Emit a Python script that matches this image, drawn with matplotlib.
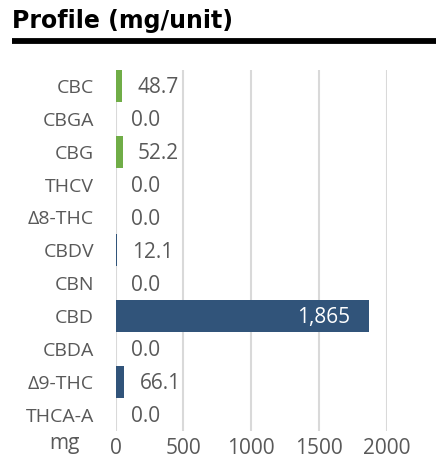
import matplotlib
matplotlib.use("Agg")
import matplotlib.pyplot as plt

categories = ["CBC", "CBGA", "CBG", "THCV", "Δ8-THC", "CBDV", "CBN", "CBD", "CBDA", "Δ9-THC", "THCA-A"]
values = [48.7, 0.0, 52.2, 0.0, 0.0, 12.1, 0.0, 1865, 0.0, 66.1, 0.0]
bar_colors = ["#70AD47", "#70AD47", "#70AD47", "#31547A", "#31547A", "#31547A",
              "#31547A", "#31547A", "#31547A", "#31547A", "#31547A"]
x_ticks = [0, 500, 1000, 1500, 2000]
x_unit = "mg"
title = "Profile (mg/unit)"

W, H = 444, 474
fig = plt.figure(figsize=(W / 100, H / 100), dpi=100)
font = ["Open Sans", "DejaVu Sans"]
gray = "#595959"

left, right, top, bottom = 115.5, 387, 69.5, 431
ax = fig.add_axes([left / W, 1 - bottom / H, (right - left) / W, (bottom - top) / H])
ypos = list(range(len(categories)))
ax.barh(ypos, values, height=0.98, color=bar_colors, zorder=3)
ax.set_ylim(len(categories) - 0.5, -0.5)
ax.set_xlim(0, 2000)
ax.set_xticks(x_ticks)
ax.set_xticklabels([str(t) for t in x_ticks], fontsize=15, color=gray, family=font)
ax.set_yticks(ypos)
ax.set_yticklabels(categories, fontsize=14, color=gray, family=font)
for lbl in ax.get_yticklabels():
    lbl.set_verticalalignment("center_baseline")
ax.tick_params(axis="both", length=0)
ax.tick_params(axis="y", pad=15.5)
ax.tick_params(axis="x", pad=5)
for s in ax.spines.values():
    s.set_visible(False)
ax.grid(axis="x", color="#D9D9D9", linewidth=1.5, zorder=0)
ax.set_axisbelow(True)

for y, v in zip(ypos, values):
    label = f"{v:,.0f}" if v >= 1000 else f"{v:.1f}"
    if v >= 1000:
        ax.annotate(label, (v, y), xytext=(-18, -2), textcoords="offset pixels",
                    ha="right", va="center", color="white", fontsize=15, family=font, zorder=4)
    else:
        ax.annotate(label, (v, y), xytext=(15, -2), textcoords="offset pixels",
                    ha="left", va="center", color=gray, fontsize=15, family=font, zorder=4)

fig.text(64 / W, 1 - 443 / H, x_unit, ha="center", va="center", fontsize=15, color=gray, family=font)

fig.text(12 / W, 1 - 21 / H, title, ha="left", va="center", fontsize=17,
         fontweight="bold", color="black", family=["DejaVu Sans"])
fig.add_artist(plt.Line2D([12 / W, 436 / W], [1 - 40.5 / H, 1 - 40.5 / H],
                          color="black", linewidth=4.2, solid_capstyle="butt"))

fig.savefig("out.png", dpi=100)
